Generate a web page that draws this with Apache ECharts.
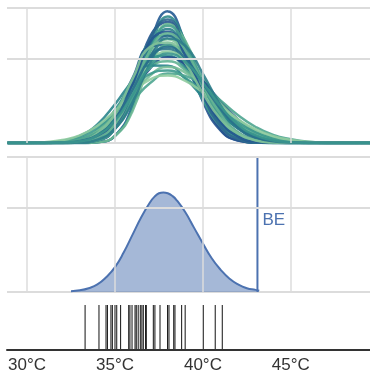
<!DOCTYPE html>
<html>
<head>
<meta charset="utf-8">
<script src="https://cdn.jsdelivr.net/npm/echarts@6/dist/echarts.min.js"></script>
<style>
  html, body { margin: 0; padding: 0; background: #fff; }
  #chart { width: 370px; height: 377px; }
</style>
</head>
<body>
<div id="chart"></div>
<script>
// temperature grid for the sampled densities (top panel)
const TEMPS = [28.9, 30, 31, 32, 33, 34, 35, 36, 37, 38, 39, 40, 41, 42, 43, 44, 45, 46, 47, 49.5];

// posterior density samples, one row per curve (values on TEMPS)
const CURVES = [
  [0, 0, 0, 0, 0, 0.002, 0.017, 0.090, 0.236, 0.312, 0.235, 0.110, 0.032, 0.006, 0.001, 0, 0, 0, 0, 0],
  [0, 0, 0, 0, 0, 0.002, 0.017, 0.083, 0.218, 0.300, 0.240, 0.123, 0.041, 0.009, 0.001, 0, 0, 0, 0, 0],
  [0, 0, 0, 0, 0, 0.005, 0.034, 0.124, 0.253, 0.287, 0.205, 0.098, 0.030, 0.006, 0.001, 0, 0, 0, 0, 0],
  [0, 0, 0, 0, 0, 0.002, 0.017, 0.076, 0.197, 0.282, 0.242, 0.139, 0.055, 0.014, 0.003, 0, 0, 0, 0, 0],
  [0, 0, 0, 0, 0.001, 0.007, 0.037, 0.119, 0.231, 0.270, 0.212, 0.119, 0.046, 0.013, 0.002, 0, 0, 0, 0, 0],
  [0, 0, 0, 0, 0.002, 0.012, 0.053, 0.143, 0.241, 0.255, 0.190, 0.102, 0.040, 0.011, 0.002, 0, 0, 0, 0, 0],
  [0, 0, 0, 0, 0.001, 0.007, 0.034, 0.105, 0.204, 0.255, 0.220, 0.142, 0.069, 0.025, 0.007, 0.001, 0, 0, 0, 0],
  [0, 0, 0, 0, 0.002, 0.012, 0.048, 0.126, 0.216, 0.246, 0.204, 0.130, 0.064, 0.024, 0.007, 0.002, 0, 0, 0, 0],
  [0, 0, 0, 0.001, 0.005, 0.022, 0.071, 0.154, 0.229, 0.233, 0.181, 0.110, 0.052, 0.019, 0.005, 0.001, 0, 0, 0, 0],
  [0, 0, 0, 0, 0.002, 0.011, 0.040, 0.104, 0.186, 0.232, 0.212, 0.154, 0.090, 0.041, 0.015, 0.004, 0.001, 0, 0, 0],
  [0, 0, 0, 0.001, 0.005, 0.021, 0.064, 0.137, 0.207, 0.223, 0.189, 0.130, 0.073, 0.034, 0.012, 0.004, 0.001, 0, 0, 0],
  [0, 0, 0, 0.001, 0.005, 0.021, 0.059, 0.124, 0.191, 0.217, 0.194, 0.143, 0.087, 0.044, 0.018, 0.006, 0.002, 0, 0, 0],
  [0, 0, 0, 0.002, 0.009, 0.031, 0.078, 0.145, 0.200, 0.207, 0.177, 0.127, 0.077, 0.039, 0.017, 0.006, 0.002, 0, 0, 0],
  [0, 0, 0, 0.001, 0.006, 0.022, 0.058, 0.117, 0.177, 0.203, 0.187, 0.147, 0.099, 0.056, 0.027, 0.011, 0.004, 0.001, 0, 0],
  [0, 0, 0, 0.002, 0.009, 0.029, 0.069, 0.128, 0.179, 0.194, 0.173, 0.130, 0.083, 0.045, 0.021, 0.008, 0.003, 0.001, 0, 0],
  [0, 0, 0.001, 0.005, 0.017, 0.044, 0.092, 0.147, 0.184, 0.183, 0.153, 0.109, 0.067, 0.035, 0.015, 0.006, 0.002, 0.001, 0, 0],
  [0, 0, 0.001, 0.002, 0.009, 0.027, 0.062, 0.111, 0.160, 0.180, 0.167, 0.134, 0.093, 0.055, 0.028, 0.012, 0.005, 0.002, 0, 0],
  [0, 0, 0.001, 0.004, 0.014, 0.037, 0.075, 0.125, 0.164, 0.172, 0.154, 0.121, 0.082, 0.049, 0.025, 0.011, 0.004, 0.002, 0, 0],
  [0, 0, 0.001, 0.003, 0.009, 0.025, 0.055, 0.099, 0.142, 0.165, 0.159, 0.135, 0.101, 0.066, 0.038, 0.019, 0.009, 0.003, 0.001, 0],
  [0, 0, 0.002, 0.007, 0.018, 0.041, 0.076, 0.118, 0.151, 0.160, 0.147, 0.120, 0.087, 0.056, 0.032, 0.016, 0.007, 0.003, 0.001, 0],
  [0, 0, 0, 0, 0.001, 0.006, 0.035, 0.121, 0.248, 0.293, 0.223, 0.115, 0.040, 0.009, 0.001, 0, 0, 0, 0, 0],
  [0, 0, 0, 0, 0.001, 0.006, 0.033, 0.107, 0.219, 0.278, 0.234, 0.139, 0.059, 0.018, 0.004, 0.001, 0, 0, 0, 0],
  [0, 0, 0, 0, 0.002, 0.013, 0.053, 0.141, 0.240, 0.264, 0.207, 0.118, 0.050, 0.015, 0.003, 0.001, 0, 0, 0, 0],
  [0, 0, 0, 0, 0.002, 0.011, 0.045, 0.122, 0.220, 0.260, 0.220, 0.140, 0.069, 0.025, 0.007, 0.002, 0, 0, 0, 0],
  [0, 0, 0, 0, 0.001, 0.008, 0.034, 0.097, 0.189, 0.248, 0.230, 0.164, 0.089, 0.037, 0.012, 0.003, 0.001, 0, 0, 0],
  [0, 0, 0, 0.001, 0.005, 0.023, 0.070, 0.152, 0.228, 0.238, 0.190, 0.118, 0.057, 0.022, 0.006, 0.001, 0, 0, 0, 0],
  [0, 0, 0, 0.001, 0.005, 0.019, 0.057, 0.126, 0.200, 0.228, 0.200, 0.141, 0.081, 0.037, 0.014, 0.004, 0.001, 0, 0, 0],
  [0, 0, 0, 0.001, 0.004, 0.018, 0.053, 0.114, 0.182, 0.212, 0.192, 0.143, 0.087, 0.043, 0.018, 0.006, 0.002, 0, 0, 0]
];

// fitted density (middle panel)
const FIT_TEMPS = [32.5, 33, 33.5, 34, 34.5, 35, 35.5, 36, 36.5, 37, 37.25, 37.5, 37.75, 38, 38.25, 38.5, 39, 39.5, 40, 40.5, 41, 41.5, 42, 42.5, 43, 43.2];
const FIT_VALUES = [0.002, 0.004, 0.009, 0.018, 0.035, 0.059, 0.094, 0.136, 0.178, 0.213, 0.226, 0.234, 0.236, 0.234, 0.228, 0.218, 0.189, 0.152, 0.115, 0.080, 0.053, 0.032, 0.018, 0.009, 0.005, 0.003];
const BE_TEMP = 43.1;

// observed temperatures (rug)
const RUG_TEMPS = [33.30, 34.09, 34.49, 34.57, 34.77, 34.85, 35.00, 35.10, 35.32, 35.78, 35.85, 35.97,
  36.14, 36.21, 36.32, 36.44, 36.53, 36.61, 36.74, 36.78, 37.18, 37.27, 37.56, 37.99, 38.07, 38.34,
  38.41, 38.79, 38.99, 40.02, 40.70, 41.10];

// axis ticks
const X_TICKS = [30, 35, 40, 45];
const Y_GRID = [0.2, 0.32];
const X_MIN = 28.86, X_MAX = 49.5, Y_MAX = 0.32;

const COLORS = ['#245a92', '#2f8a8b', '#26538f', '#6db894', '#2a7f8b', '#3f9c8e', '#2b6a8d', '#83c49b',
  '#27608f', '#55ab91', '#2d7589', '#8ccb9e', '#33918c', '#244f8c', '#62b394', '#2a858c',
  '#78bd97', '#3d998e', '#4ea590', '#90cca0', '#2c668e', '#48a18f', '#235690', '#67b595',
  '#2e7d8a', '#7fc199', '#29708c', '#3a958d'];
const BLUE = '#4c72b0';
const GRID = '#dcdcdc';
const FONT = '"Liberation Sans", Arial, sans-serif';

const chart = echarts.init(document.getElementById('chart'));

function gridLines() {
  const lines = [];
  Y_GRID.forEach(v => lines.push({ yAxis: v, lineStyle: { color: GRID, width: 2, type: 'solid' } }));
  X_TICKS.forEach(v => lines.push({ xAxis: v, lineStyle: { color: GRID, width: 1.5, type: 'solid' } }));
  return lines;
}

function baseSeries(idx) {
  return {
    type: 'line',
    xAxisIndex: idx,
    yAxisIndex: idx,
    data: [[X_MIN, 0], [X_MAX, 0]],
    symbol: 'none',
    silent: true,
    z: 1,
    lineStyle: { color: GRID, width: 2 },
    markLine: {
      silent: true,
      symbol: 'none',
      label: { show: false },
      animation: false,
      data: gridLines()
    }
  };
}

const series = [baseSeries(0), baseSeries(1)];

CURVES.forEach((vals, i) => {
  series.push({
    type: 'line',
    xAxisIndex: 0,
    yAxisIndex: 0,
    smooth: 0.5,
    symbol: 'none',
    z: 2,
    lineStyle: { color: COLORS[i % COLORS.length], width: 2.5, opacity: 0.9 },
    data: TEMPS.map((t, j) => [t, vals[j]])
  });
});

series.push({
  type: 'line',
  xAxisIndex: 1,
  yAxisIndex: 1,
  smooth: 0.5,
  symbol: 'none',
  z: 2,
  lineStyle: { color: BLUE, width: 2 },
  areaStyle: { color: BLUE, opacity: 0.5 },
  data: FIT_TEMPS.map((t, j) => [t, FIT_VALUES[j]])
});

// BE line + label
series.push({
  type: 'custom',
  xAxisIndex: 1,
  yAxisIndex: 1,
  z: 3,
  data: [[BE_TEMP, 0]],
  renderItem: function (params, api) {
    const top = api.coord([api.value(0), Y_MAX]);
    const bot = api.coord([api.value(0), 0]);
    return {
      type: 'group',
      children: [
        { type: 'line', shape: { x1: top[0], y1: top[1], x2: bot[0], y2: bot[1] },
          style: { stroke: BLUE, lineWidth: 2 } },
        { type: 'text', style: { text: 'BE', x: top[0] + 5, y: top[1] + 0.47 * (bot[1] - top[1]),
          fill: BLUE, fontSize: 17, fontFamily: FONT, verticalAlign: 'middle', align: 'left' } }
      ]
    };
  }
});

// rug
series.push({
  type: 'custom',
  xAxisIndex: 2,
  yAxisIndex: 2,
  z: 2,
  data: RUG_TEMPS.map(t => [t, 0]),
  renderItem: function (params, api) {
    const a = api.coord([api.value(0), 0]);
    const b = api.coord([api.value(0), 1]);
    return { type: 'line', shape: { x1: a[0], y1: a[1] - 1, x2: b[0], y2: b[1] },
      style: { stroke: '#111', lineWidth: 1 } };
  }
});

function hiddenX(idx) {
  return { type: 'value', gridIndex: idx, min: X_MIN, max: X_MAX, show: false };
}

chart.setOption({
  animation: false,
  grid: [
    { left: 7, right: 0, top: 8, height: 135 },
    { left: 7, right: 0, top: 157, height: 135 },
    { left: 7, right: 0, top: 305, height: 45 }
  ],
  xAxis: [
    hiddenX(0),
    hiddenX(1),
    {
      type: 'value', gridIndex: 2, min: X_MIN, max: X_MAX,
      splitLine: { show: false },
      axisTick: { show: false },
      axisLine: { show: true, lineStyle: { color: '#333', width: 2 } },
      axisLabel: {
        customValues: X_TICKS,
        formatter: v => v + '°C',
        fontSize: 17, color: '#333', margin: 7, fontFamily: FONT
      }
    }
  ],
  yAxis: [
    { type: 'value', gridIndex: 0, min: 0, max: Y_MAX, show: false },
    { type: 'value', gridIndex: 1, min: 0, max: Y_MAX, show: false },
    { type: 'value', gridIndex: 2, min: 0, max: 1, show: false }
  ],
  series: series
});
</script>
</body>
</html>
